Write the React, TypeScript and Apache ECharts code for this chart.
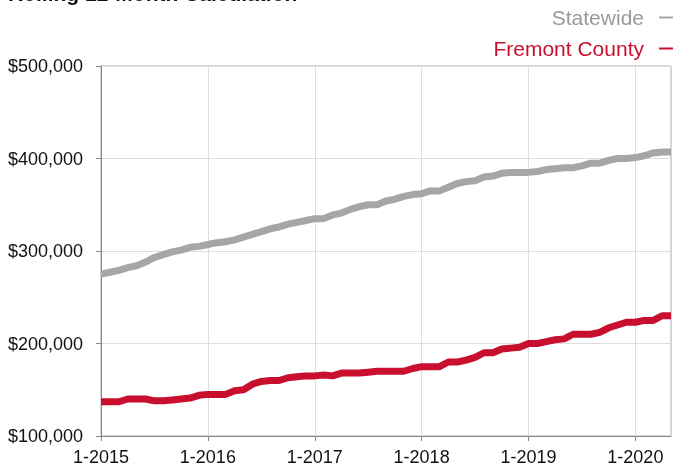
import React, { useEffect, useRef } from "react";
import * as echarts from "echarts";

const months: string[] = [];
for (let y = 2015; y <= 2020; y++) {
  for (let m = 1; m <= 12; m++) {
    if (y === 2020 && m > 5) break;
    months.push(`${m}-${y}`);
  }
}

const statewide = [
  275000, 277000, 279000, 282000, 284000, 288000, 293000, 296000, 299000, 301000, 304000, 305000,
  307000, 309000, 310000, 312000, 315000, 318000, 321000, 324000, 326000, 329000, 331000, 333000,
  335000, 335000, 339000, 341000, 345000, 348000, 350000, 350000, 354000, 356000, 359000, 361000,
  362000, 365000, 365000, 369000, 373000, 375000, 376000, 380000, 381000, 384000, 385000, 385000,
  385000, 386000, 388000, 389000, 390000, 390000, 392000, 395000, 395000, 398000, 400000, 400000,
  401000, 403000, 406000, 407000, 407000,
];

const fremont = [
  137000, 137000, 137000, 140000, 140000, 140000, 138000, 138000, 139000, 140000, 141000, 144000,
  145000, 145000, 145000, 149000, 150000, 156000, 159000, 160000, 160000, 163000, 164000, 165000,
  165000, 166000, 165000, 168000, 168000, 168000, 169000, 170000, 170000, 170000, 170000, 173000,
  175000, 175000, 175000, 180000, 180000, 182000, 185000, 190000, 190000, 194000, 195000, 196000,
  200000, 200000, 202000, 204000, 205000, 210000, 210000, 210000, 212000, 217000, 220000, 223000,
  223000, 225000, 225000, 230000, 230000,
];

const FONT = "'Liberation Sans', Arial, Helvetica, sans-serif";
const GRAY = "#a6a6a6";
const RED = "#c8102e";
const yearStart = (i: number) => i % 12 === 0;

export default function App() {
  const ref = useRef<HTMLDivElement>(null);
  useEffect(() => {
    if (!ref.current) return;
    const chart = echarts.init(ref.current, null, { renderer: "svg" });
    chart.setOption({
      animation: false,
      textStyle: { fontFamily: FONT },
      title: {
        text: "Rolling 12-Month Calculation",
        left: 8,
        top: -17,
        padding: 0,
        textStyle: { fontFamily: FONT, fontSize: 21, fontWeight: "bold", color: "#111" },
      },
      legend: {
        orient: "vertical",
        right: -4,
        top: 7,
        padding: 0,
        itemGap: 10,
        align: "right",
        icon: "rect",
        itemWidth: 18,
        itemHeight: 2,
        selectedMode: false,
        textStyle: { fontFamily: FONT, fontSize: 21, padding: [0, 10, 0, 0] },
        data: [
          { name: "Statewide", textStyle: { color: "#999999" } },
          { name: "Fremont County", textStyle: { color: RED } },
        ],
      },
      grid: {
        left: 101,
        right: 2,
        top: 66,
        bottom: 30,
        show: true,
        borderColor: "#aaaaaa",
        borderWidth: 1,
      },
      xAxis: {
        type: "category",
        data: months,
        boundaryGap: false,
        axisLine: { lineStyle: { color: "#888888", width: 1 } },
        axisTick: { interval: yearStart, length: 5, lineStyle: { color: "#888888" } },
        axisLabel: {
          interval: yearStart,
          margin: 12,
          fontSize: 18,
          color: "#111111",
          fontFamily: FONT,
          hideOverlap: false,
        },
        splitLine: { show: true, interval: yearStart, lineStyle: { color: "#dddddd", width: 1 } },
      },
      yAxis: {
        type: "value",
        min: 100000,
        max: 500000,
        interval: 100000,
        axisLine: { show: true, lineStyle: { color: "#888888", width: 1 } },
        axisTick: { show: true, length: 5, lineStyle: { color: "#888888" } },
        axisLabel: {
          margin: 18,
          fontSize: 18,
          color: "#111111",
          fontFamily: FONT,
          formatter: (v: number) => "$" + v.toLocaleString("en-US"),
        },
        splitLine: { show: true, lineStyle: { color: "#dddddd", width: 1 } },
      },
      series: [
        {
          name: "Statewide",
          type: "line",
          data: statewide,
          showSymbol: false,
          symbol: "none",
          color: GRAY,
          lineStyle: { color: GRAY, width: 7 },
        },
        {
          name: "Fremont County",
          type: "line",
          data: fremont,
          showSymbol: false,
          symbol: "none",
          color: RED,
          lineStyle: { color: RED, width: 7 },
        },
      ],
    });
    return () => chart.dispose();
  }, []);
  return (
    <div
      ref={ref}
      style={{ position: "fixed", left: 0, top: 0, width: 673, height: 466 }}
    />
  );
}
